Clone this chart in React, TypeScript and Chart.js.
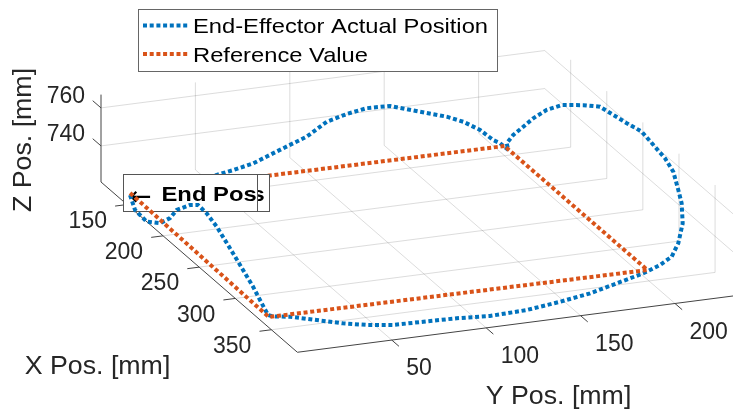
import React, { useEffect, useRef } from "react";
import { Chart, registerables } from "chart.js";

Chart.register(...registerables);

// ---- Data (mm) ----
// End-effector measured path: starts at the end position, runs the loop and returns.
const actualX = [
  154.2, 161.1, 177.3, 195.7, 209.6, 218.8, 237.3, 248.3, 260.4, 274.2, 285.7, 299.6, 310.7, 324.5, 336.6, 345.3, 352.2,
  351.1, 360.5, 369.8, 376.3, 381.1, 382.0, 383.2, 386.0, 384.3, 378.8, 372.5, 363.4, 354.2,
  352.2, 350.0, 343.5, 333.9, 322.0, 309.6, 297.4, 280.6, 266.8, 251.0, 235.5, 222.2, 211.5, 196.3, 176.7, 166.5, 158.3,
  155.0, 151.5, 150.3, 157.8,
  155.0, 155.0, 155.0, 155.0, 155.0, 155.0, 155.0, 155.0, 155.0, 155.0, 155.0, 155.0, 155.0, 155.0, 155.0, 155.0,
  155.0, 155.0, 154.2,
];
const actualY = [
  0, 0, 0, 0, 0, 0, 0, 0, 0, 0, 0, 0, 0, 0, 0, 0, 0,
  9.4, 20.0, 30.3, 40.4, 52.6, 68.3, 85.5, 102.0, 122.1, 141.9, 160.2, 177.8, 195.4,
  205, 212, 218, 224, 228, 231, 233, 235, 235, 234, 232, 230, 227, 224, 220, 216, 212,
  208, 204, 201, 199,
  195.7, 192.1, 185.1, 176.2, 167.4, 153.3, 137.4, 125.1, 114.5, 103.9, 93.3, 84.4, 73.8, 65.0, 54.4, 45.6,
  30.0, 15.0, 0,
];
const actualZ = [
  727.4, 721.8, 721.0, 726.2, 733.5, 740.8, 749.5, 753.2, 752.7, 750.3, 747.0, 742.9, 739.5, 735.3, 730.5, 727.2, 728.7,
  727, 727, 727, 727, 727, 727, 727, 727, 727, 727, 727, 727, 727,
  729.5, 732.2, 736.4, 742.9, 749.1, 751.5, 756.9, 758.2, 759.7, 762.6, 762.2, 762.4, 763.6, 759.8, 753.9, 748.5, 741.9,
  736.9, 731.9, 727.5, 726.7,
  729.8, 731.9, 738.1, 743.6, 747.4, 751.8, 756.9, 757.3, 755.6, 752.9, 746.4, 743.2, 739.3, 736.0, 733.8, 732.4,
  730.5, 729.0, 727.4,
];
// index where the return leg (far edge back to the end position) begins
const RETURN_START = 50;

// Reference rectangle corners
const refX = [153, 349, 353, 155, 153];
const refY = [0.5, -1, 198, 198, 0.5];
const refZ = [728, 727.5, 728, 728, 728];
const REF_RETURN_START = 3;

// Axes
const xLim = [114, 386];
const yLim = [0, 235];
const zLim = [721, 767];
const xTicks = [150, 200, 250, 300, 350];
const yTicks = [50, 100, 150, 200];
const zTicks = [740, 760];

const seriesNames = ["End-Effector Actual Position", "Reference Value"];
const BLUE = "#0072BD";
const ORANGE = "#D95319";
const FONT = '"Liberation Sans", Arial, Helvetica, sans-serif';
const W = 733;
const H = 411;

// Orthographic view: screen position of (xmin, ymin, zmin) and per-mm screen steps.
const VIEW = { u0: 101, v0: 182, xu: 0.722, xv: 0.626, yu: 1.888, yv: -0.244, zv: -1.9 };

function project(x: number, y: number, z: number) {
  const dx = x - xLim[0];
  const dy = y - yLim[0];
  const dz = z - zLim[0];
  return {
    x: VIEW.u0 + VIEW.xu * dx + VIEW.yu * dy,
    y: VIEW.v0 + VIEW.xv * dx + VIEW.yv * dy + VIEW.zv * dz,
  };
}

function pathPoints(xs: number[], ys: number[], zs: number[], from: number, to: number) {
  const pts: { x: number; y: number }[] = [];
  for (let i = from; i <= to; i++) pts.push(project(xs[i], ys[i], zs[i]));
  return pts;
}

type TextOpts = {
  align?: CanvasTextAlign;
  baseline?: CanvasTextBaseline;
  weight?: string;
  sx?: number;
  rot?: number;
  color?: string;
  family?: string;
};

function drawText(ctx: CanvasRenderingContext2D, s: string, x: number, y: number, size: number, o: TextOpts = {}) {
  ctx.save();
  ctx.translate(x, y);
  if (o.rot) ctx.rotate(o.rot);
  ctx.scale(o.sx ?? 1, 1);
  ctx.font = `${o.weight ?? "normal"} ${size}px ${o.family ?? FONT}`;
  ctx.textAlign = o.align ?? "left";
  ctx.textBaseline = o.baseline ?? "alphabetic";
  ctx.fillStyle = o.color ?? "#262626";
  ctx.fillText(s, 0, 0);
  ctx.restore();
}

function toPixel(chart: any, p: { x: number; y: number }) {
  return [chart.scales.x.getPixelForValue(p.x), chart.scales.y.getPixelForValue(p.y)];
}

function seg(chart: any, ctx: CanvasRenderingContext2D, a: number[], b: number[]) {
  const p = toPixel(chart, project(a[0], a[1], a[2]));
  const q = toPixel(chart, project(b[0], b[1], b[2]));
  ctx.beginPath();
  ctx.moveTo(p[0], p[1]);
  ctx.lineTo(q[0], q[1]);
  ctx.stroke();
}

function unit(u: number, v: number) {
  const l = Math.hypot(u, v);
  return [u / l, v / l];
}

// Grid planes, axis lines and tick marks
const axes3dPlugin = {
  id: "axes3d",
  beforeDatasetsDraw(chart: any) {
    const ctx: CanvasRenderingContext2D = chart.ctx;
    const [x0, x1] = xLim;
    const [y0, y1] = yLim;
    const [z0, z1] = zLim;
    ctx.save();
    ctx.strokeStyle = "rgba(38,38,38,0.16)";
    ctx.lineWidth = 1;
    // back wall (x = xmin)
    zTicks.forEach((z) => seg(chart, ctx, [x0, y0, z], [x0, y1, z]));
    yTicks.forEach((y) => seg(chart, ctx, [x0, y, z0], [x0, y, z1]));
    // side wall (y = ymax)
    zTicks.forEach((z) => seg(chart, ctx, [x0, y1, z], [x1, y1, z]));
    xTicks.forEach((x) => seg(chart, ctx, [x, y1, z0], [x, y1, z1]));
    // floor (z = zmin)
    xTicks.forEach((x) => seg(chart, ctx, [x, y0, z0], [x, y1, z0]));
    yTicks.forEach((y) => seg(chart, ctx, [x0, y, z0], [x1, y, z0]));

    // axis lines
    ctx.strokeStyle = "#444444";
    ctx.lineWidth = 1;
    seg(chart, ctx, [x0, y0, z0], [x0, y0, z1]);
    seg(chart, ctx, [x0, y0, z0], [x1, y0, z0]);
    seg(chart, ctx, [x1, y0, z0], [x1, y1, z0]);

    // tick marks
    const ex = unit(VIEW.xu, VIEW.xv);
    const ey = unit(VIEW.yu, VIEW.yv);
    const tick = (p: { x: number; y: number }, d: number[], len: number) => {
      const a = toPixel(chart, p);
      ctx.beginPath();
      ctx.moveTo(a[0], a[1]);
      ctx.lineTo(a[0] + d[0] * len, a[1] + d[1] * len);
      ctx.stroke();
    };
    zTicks.forEach((z) => tick(project(x0, y0, z), [-ex[0], -ex[1]], 11));
    xTicks.forEach((x) => tick(project(x, y0, z0), [-ey[0], -ey[1]], 12));
    yTicks.forEach((y) => tick(project(x1, y, z0), ex, 9.5));
    ctx.restore();
  },
};

function drawNoteBox(ctx: CanvasRenderingContext2D, left: number, right: number, textShift: number) {
  const top = 174;
  const bottom = 212;
  ctx.save();
  ctx.fillStyle = "#ffffff";
  ctx.fillRect(left, top, right - left, bottom - top);
  ctx.strokeStyle = "#555555";
  ctx.lineWidth = 1;
  ctx.strokeRect(left + 0.5, top + 0.5, right - left - 1, bottom - top - 1);
  ctx.beginPath();
  ctx.rect(left + 1, top + 1, right - left - 2, bottom - top - 2);
  ctx.clip();
  drawText(ctx, "\u2190", 129 + textShift, 204.5, 27, { family: '"DejaVu Sans", sans-serif', color: "#000" });
  drawText(ctx, "End Pos", 161.5 + textShift, 200.7, 20.5, { weight: "bold", sx: 1.16, color: "#000" });
  ctx.restore();
}

// "End Pos" annotation, layered between the return leg and the outbound leg
const notePlugin = {
  id: "endPosNote",
  afterDatasetDraw(chart: any, args: any) {
    if (args.index !== 2) return;
    const ctx: CanvasRenderingContext2D = chart.ctx;
    drawNoteBox(ctx, 131, 270, 8);
    drawNoteBox(ctx, 123, 258, 0);
  },
};

// Tick labels, axis labels and legend
const labelsPlugin = {
  id: "labels3d",
  afterDraw(chart: any) {
    const ctx: CanvasRenderingContext2D = chart.ctx;
    const [x0, x1] = xLim;
    const [y0] = yLim;
    const [z0] = zLim;
    const TS = 23;
    zTicks.forEach((z) => {
      const [u, v] = toPixel(chart, project(x0, y0, z));
      drawText(ctx, String(z), u - 16, v - 11, TS, { align: "right", baseline: "middle" });
    });
    xTicks.forEach((x) => {
      const [u, v] = toPixel(chart, project(x, y0, z0));
      drawText(ctx, String(x), u - 20, v + 17, TS, { align: "right", baseline: "middle" });
    });
    yTicks.forEach((y) => {
      const [u, v] = toPixel(chart, project(x1, y, z0));
      drawText(ctx, String(y), u + 14.5, v + 29, TS, { align: "left", baseline: "middle" });
    });

    const LS = 25;
    drawText(ctx, "X Pos. [mm]", 97.5, 367, LS, { align: "center", baseline: "middle", sx: 1.07 });
    drawText(ctx, "Y Pos. [mm]", 558.5, 397, LS, { align: "center", baseline: "middle", sx: 1.07 });
    drawText(ctx, "Z Pos. [mm]", 24, 140, LS, { align: "center", baseline: "middle", sx: 1.07, rot: -Math.PI / 2 });

    // legend
    ctx.save();
    ctx.fillStyle = "#ffffff";
    ctx.fillRect(138, 9, 360, 63);
    ctx.strokeStyle = "#666666";
    ctx.lineWidth = 1;
    ctx.strokeRect(138.5, 9.5, 359, 62);
    const colors = [BLUE, ORANGE];
    const rows = [25.5, 54];
    seriesNames.forEach((name, i) => {
      ctx.save();
      ctx.strokeStyle = colors[i];
      ctx.lineWidth = 4;
      ctx.setLineDash([4, 2.7]);
      ctx.beginPath();
      ctx.moveTo(143, rows[i]);
      ctx.lineTo(189, rows[i]);
      ctx.stroke();
      ctx.restore();
      drawText(ctx, name, 193, rows[i] + 7.8, 21, { sx: 1.13, color: "#000" });
    });
    ctx.restore();
  },
};

const lineStyle = {
  showLine: true,
  pointRadius: 0,
  pointHoverRadius: 0,
  borderWidth: 4,
  borderDash: [4, 2.7],
  borderCapStyle: "butt" as const,
  tension: 0,
  fill: false,
};

export default function App() {
  const canvasRef = useRef<HTMLCanvasElement | null>(null);

  useEffect(() => {
    if (!canvasRef.current) return;
    const last = actualX.length - 1;
    const chart = new Chart(canvasRef.current, {
      type: "scatter",
      data: {
        datasets: [
          // drawn last-to-first: return legs, then note box, then outbound legs
          { ...lineStyle, label: seriesNames[1], borderColor: ORANGE, data: pathPoints(refX, refY, refZ, 0, REF_RETURN_START) },
          { ...lineStyle, label: seriesNames[0], borderColor: BLUE, data: pathPoints(actualX, actualY, actualZ, 0, RETURN_START) },
          { ...lineStyle, label: seriesNames[1], borderColor: ORANGE, data: pathPoints(refX, refY, refZ, REF_RETURN_START, refX.length - 1) },
          { ...lineStyle, label: seriesNames[0], borderColor: BLUE, data: pathPoints(actualX, actualY, actualZ, RETURN_START, last) },
        ],
      },
      options: {
        animation: false,
        responsive: false,
        events: [],
        layout: { padding: 0 },
        scales: {
          x: { type: "linear", min: 0, max: W, display: false },
          y: { type: "linear", min: 0, max: H, reverse: true, display: false },
        },
        plugins: {
          legend: { display: false },
          tooltip: { enabled: false },
        },
      },
      plugins: [axes3dPlugin, notePlugin, labelsPlugin],
    });
    return () => chart.destroy();
  }, []);

  return (
    <div style={{ position: "fixed", left: 0, top: 0, width: W, height: H, background: "#ffffff" }}>
      <canvas ref={canvasRef} width={W} height={H} style={{ display: "block", width: W, height: H }} />
    </div>
  );
}
